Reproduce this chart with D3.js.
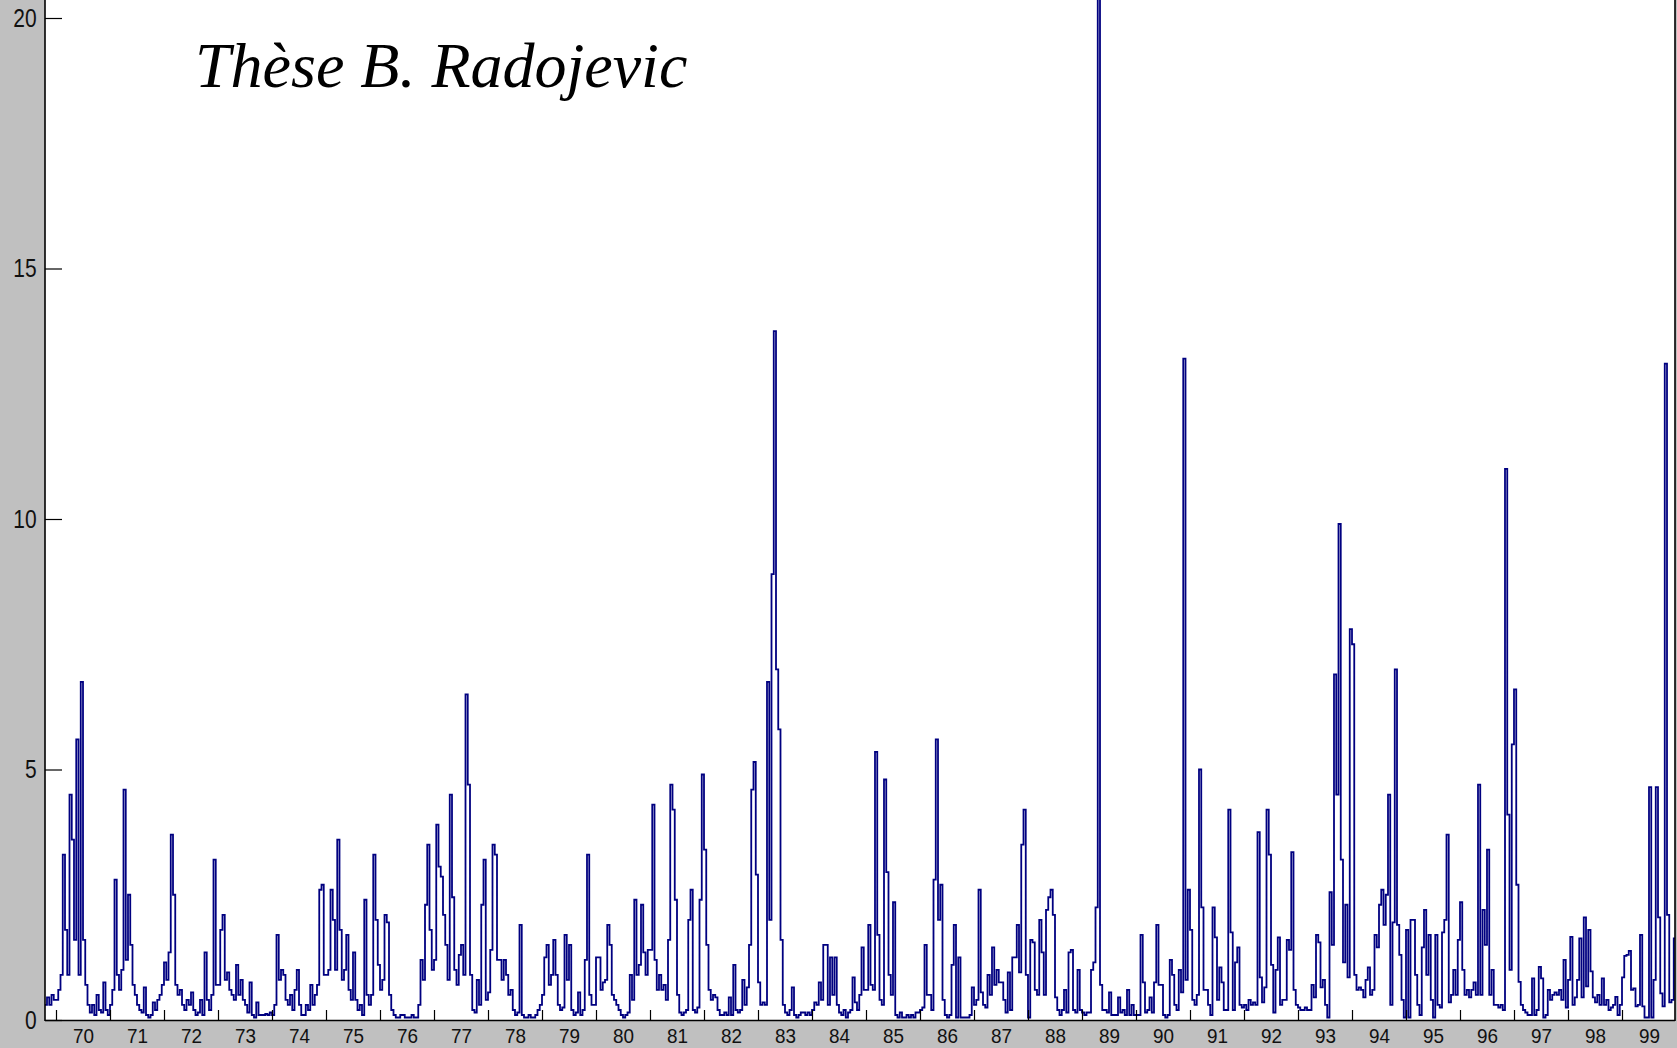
<!DOCTYPE html>
<html>
<head>
<meta charset="utf-8">
<script src="https://cdn.jsdelivr.net/npm/d3@7"></script>
<style>
  html, body { margin: 0; padding: 0; background: #c0c0c0; overflow: hidden; }
  svg { display: block; }
</style>
</head>
<body>
<div id="chart"></div>
<script>
// half-month values (24 per year)
const y69 = [0.3, 0.45, 0.3, 0.5, 0.4]; // last bins of 1969 (from bin 19)
const y70 = [0.4, 0.6, 0.9, 3.3, 1.8, 0.9, 4.5, 3.6, 1.6, 5.6, 0.9, 6.75, 1.6, 0.7, 0.3, 0.15, 0.3, 0.1, 0.5, 0.2, 0.15, 0.75, 0.2, 0.1];
const y71 = [0.3, 0.6, 2.8, 0.9, 0.6, 1.0, 4.6, 1.2, 2.5, 1.5, 0.7, 0.5, 0.3, 0.2, 0.15, 0.65, 0.1, 0.05, 0.1, 0.35, 0.2, 0.4, 0.5, 0.7];
const y72 = [1.15, 0.8, 1.35, 3.7, 2.5, 0.7, 0.5, 0.6, 0.3, 0.2, 0.4, 0.3, 0.55, 0.2, 0.1, 0.15, 0.4, 0.1, 1.35, 0.4, 0.2, 0.5, 3.2, 0.7];
const y73 = [0.7, 1.8, 2.1, 0.8, 0.95, 0.6, 0.5, 0.4, 1.1, 0.5, 0.8, 0.4, 0.3, 0.15, 0.75, 0.1, 0.05, 0.35, 0.1, 0.1, 0.1, 0.12, 0.1, 0.15];
const y74 = [0.1, 0.3, 1.7, 0.8, 1.0, 0.9, 0.4, 0.3, 0.5, 0.2, 0.6, 1.0, 0.3, 0.1, 0.1, 0.3, 0.2, 0.7, 0.3, 0.5, 0.7, 2.6, 2.7, 0.9];
const y75 = [0.9, 1.0, 2.6, 2.0, 1.0, 3.6, 1.8, 0.8, 1.0, 1.7, 0.6, 0.4, 1.35, 0.4, 0.2, 0.3, 0.1, 2.4, 0.5, 0.3, 0.5, 3.3, 2.0, 1.1];
const y76 = [0.6, 0.8, 2.1, 1.95, 0.5, 0.2, 0.1, 0.05, 0.05, 0.1, 0.1, 0.05, 0.05, 0.05, 0.1, 0.05, 0.05, 0.3, 1.2, 0.8, 2.3, 3.5, 1.8, 1.0];
const y77 = [1.2, 3.9, 3.06, 2.86, 2.1, 1.5, 0.8, 4.5, 2.45, 1.0, 0.7, 1.3, 1.5, 0.9, 6.5, 4.7, 0.9, 0.2, 0.15, 0.8, 0.3, 2.3, 3.2, 0.4];
const y78 = [0.55, 1.4, 3.5, 3.3, 1.2, 1.2, 0.8, 1.2, 0.9, 0.5, 0.6, 0.2, 0.1, 0.15, 1.9, 0.1, 0.05, 0.05, 0.1, 0.05, 0.05, 0.1, 0.2, 0.3];
const y79 = [0.5, 1.25, 1.5, 0.7, 0.9, 1.6, 0.9, 0.3, 0.2, 0.25, 1.7, 0.8, 1.5, 0.2, 0.1, 0.15, 0.55, 0.1, 0.2, 1.2, 3.3, 0.5, 0.3, 0.3];
const y80 = [1.25, 1.25, 0.6, 0.75, 0.8, 1.9, 1.5, 0.5, 0.4, 0.3, 0.2, 0.1, 0.05, 0.1, 0.15, 0.9, 0.4, 2.4, 0.9, 1.1, 2.3, 1.35, 0.9, 1.4];
const y81 = [1.4, 4.3, 1.2, 0.6, 0.9, 0.6, 0.7, 0.4, 1.6, 4.7, 4.2, 2.4, 0.5, 0.15, 0.1, 0.15, 0.2, 2.0, 2.6, 0.2, 0.15, 0.25, 2.4, 4.9];
const y82 = [3.4, 1.5, 0.6, 0.4, 0.5, 0.45, 0.2, 0.1, 0.1, 0.15, 0.1, 0.45, 0.1, 1.1, 0.2, 0.15, 0.2, 0.8, 0.3, 0.65, 1.5, 4.6, 5.15, 2.9];
const y83 = [0.75, 0.3, 0.35, 0.3, 6.75, 2.0, 8.9, 13.75, 7.0, 5.8, 1.6, 0.3, 0.15, 0.1, 0.2, 0.65, 0.1, 0.05, 0.1, 0.15, 0.15, 0.1, 0.15, 0.1];
const y84 = [0.2, 0.35, 0.3, 0.75, 0.4, 1.5, 1.5, 0.3, 1.25, 0.5, 1.25, 0.3, 0.15, 0.1, 0.2, 0.05, 0.15, 0.2, 0.85, 0.35, 0.2, 0.5, 1.45, 0.6];
const y85 = [0.6, 1.9, 0.7, 0.6, 5.35, 1.7, 0.4, 0.3, 4.8, 2.95, 0.9, 0.5, 2.35, 0.1, 0.05, 0.15, 0.05, 0.05, 0.1, 0.05, 0.1, 0.05, 0.15, 0.15];
const y86 = [0.2, 0.25, 1.5, 0.5, 0.5, 0.2, 2.8, 5.6, 2.0, 2.7, 0.4, 0.1, 0.05, 0.1, 1.1, 1.9, 0.05, 1.25, 0.05, 0.05, 0.05, 0.05, 0.1, 0.65];
const y87 = [0.3, 0.4, 2.6, 0.55, 0.3, 0.25, 0.9, 0.5, 1.45, 0.7, 1.0, 0.75, 0.75, 0.4, 0.15, 0.95, 0.2, 1.25, 1.25, 1.9, 0.95, 3.5, 4.2, 0.9];
const y88 = [0.05, 1.6, 1.55, 0.6, 0.5, 2.0, 1.35, 0.5, 2.2, 2.45, 2.6, 2.1, 0.45, 0.2, 0.1, 0.2, 0.6, 0.15, 1.35, 1.4, 0.2, 0.15, 1.0, 0.2];
const y89 = [0.15, 0.1, 0.15, 0.15, 1.0, 1.15, 2.25, 21.5, 0.7, 0.2, 0.2, 0.15, 0.55, 0.1, 0.1, 0.1, 0.45, 0.15, 0.2, 0.1, 0.6, 0.1, 0.3, 0.1];
const y90 = [0.1, 0.1, 1.7, 0.75, 0.15, 0.2, 0.45, 0.15, 0.75, 1.9, 0.7, 0.7, 0.1, 0.05, 0.1, 1.2, 0.9, 0.3, 0.2, 1.0, 0.55, 13.2, 0.8, 2.6];
const y91 = [1.8, 0.4, 0.3, 0.5, 5.0, 2.25, 0.6, 0.6, 0.3, 0.1, 2.25, 1.65, 0.4, 1.05, 0.75, 0.2, 0.2, 4.2, 1.75, 0.2, 1.15, 1.45, 0.3, 0.25];
const y92 = [0.3, 0.2, 0.4, 0.3, 0.35, 0.3, 3.75, 0.85, 0.35, 0.65, 4.2, 3.3, 1.1, 0.15, 1.0, 1.65, 0.3, 0.4, 0.4, 1.6, 1.4, 3.35, 0.6, 0.3];
const y93 = [0.25, 0.2, 0.2, 0.25, 0.2, 0.2, 0.7, 0.45, 1.7, 1.55, 0.65, 0.8, 0.3, 0.05, 2.55, 1.5, 6.9, 4.5, 9.9, 3.2, 1.15, 2.3, 0.85, 7.8];
const y94 = [7.5, 0.9, 0.6, 0.65, 0.6, 0.45, 0.8, 1.05, 0.5, 0.6, 1.7, 1.45, 2.3, 2.6, 1.9, 2.5, 4.5, 0.3, 1.95, 7.0, 1.9, 1.3, 0.4, 0.05];
const y95 = [1.8, 0.05, 2.0, 2.0, 0.9, 0.3, 0.1, 1.45, 2.2, 0.9, 1.7, 0.4, 0.05, 1.7, 0.3, 0.25, 1.75, 2.0, 3.7, 0.35, 0.5, 1.0, 0.5, 1.6];
const y96 = [2.35, 1.0, 0.5, 0.6, 0.45, 0.6, 0.75, 0.5, 4.7, 0.5, 2.2, 1.5, 3.4, 0.5, 1.0, 0.3, 0.3, 0.25, 0.3, 0.2, 11.0, 4.1, 1.0, 5.5];
const y97 = [6.6, 2.7, 0.76, 0.3, 0.2, 0.15, 0.1, 0.1, 0.83, 0.1, 0.2, 1.06, 0.83, 0.05, 0.1, 0.6, 0.4, 0.5, 0.55, 0.5, 0.6, 0.4, 1.2, 0.25];
const y98 = [0.8, 1.66, 0.3, 0.45, 0.8, 1.63, 0.45, 2.05, 0.67, 1.8, 0.97, 0.45, 0.35, 0.5, 0.3, 0.83, 0.3, 0.4, 0.2, 0.25, 0.3, 0.46, 0.1, 0.3];
const y99 = [0.85, 1.28, 1.3, 1.38, 0.6, 0.63, 0.27, 0.3, 1.7, 0.27, 0.05, 0.05, 4.65, 0.05, 0.8, 4.65, 2.05, 0.53, 0.27, 13.1, 2.1, 0.35, 0.4, 1.63];

const yearRows = [y70, y71, y72, y73, y74, y75, y76, y77, y78, y79,
                  y80, y81, y82, y83, y84, y85, y86, y87, y88, y89,
                  y90, y91, y92, y93, y94, y95, y96, y97, y98, y99];

const yTicks = [0, 5, 10, 15, 20];
const tickYears = d3.range(1970, 2000);
const yearLabels = ["70","71","72","73","74","75","76","77","78","79",
                    "80","81","82","83","84","85","86","87","88","89",
                    "90","91","92","93","94","95","96","97","98","99"];
const title = "Thèse B. Radojevic";

// build the time series (t in fractional years)
const points = [];
y69.forEach((v, i) => points.push({t: 1969 + (19 + i) / 24, v: v}));
yearRows.forEach((row, k) => {
    row.forEach((v, i) => points.push({t: 1970 + k + i / 24, v: v}));
});
points.push({t: 2000, v: y99[y99.length - 1]});

const width = 1677, height = 1048;
const plotLeft = 45, plotRight = 1675, plotBottom = 1020;

const x = d3.scaleLinear().domain([1970, 2000]).range([56, 1676]);
const y = d3.scaleLinear().domain([0, 20]).range([1020, 18]);

const svg = d3.select("#chart").append("svg")
    .attr("width", width)
    .attr("height", height);

svg.append("rect")
    .attr("width", width).attr("height", height)
    .attr("fill", "#c0c0c0");

svg.append("rect")
    .attr("x", plotLeft).attr("y", 0)
    .attr("width", plotRight - plotLeft).attr("height", plotBottom)
    .attr("fill", "#ffffff");

svg.append("clipPath").attr("id", "plotClip")
    .append("rect")
    .attr("x", plotLeft).attr("y", 0)
    .attr("width", plotRight - plotLeft).attr("height", plotBottom);

const line = d3.line()
    .x(d => x(d.t))
    .y(d => y(d.v))
    .curve(d3.curveStepAfter);

svg.append("path")
    .datum(points)
    .attr("clip-path", "url(#plotClip)")
    .attr("fill", "none")
    .attr("stroke", "#000080")
    .attr("stroke-width", 1.8)
    .attr("d", line);

// y axis (ticks pointing inwards, like matlab)
const gY = svg.append("g")
    .attr("transform", `translate(${plotLeft},0)`)
    .call(d3.axisLeft(y).tickValues(yTicks).tickSize(-17).tickSizeOuter(0).tickPadding(8));
gY.select(".domain").remove();
gY.selectAll("line").attr("stroke", "#000").attr("stroke-width", 1.2);
gY.selectAll("text")
    .attr("font-family", "'Liberation Sans', Arial, sans-serif")
    .attr("font-size", 20)
    .attr("fill", "#111")
    .attr("transform", "scale(1.05,1.25)");

// x axis: tick marks at year boundaries
const gXt = svg.append("g")
    .attr("transform", `translate(0,${plotBottom})`)
    .call(d3.axisBottom(x).tickValues(tickYears).tickSize(-10).tickSizeOuter(0).tickFormat(""));
gXt.select(".domain").remove();
gXt.selectAll("line").attr("stroke", "#000").attr("stroke-width", 1.2);

// x axis: year labels in the middle of each year
const gXl = svg.append("g")
    .attr("transform", `translate(0,${plotBottom})`)
    .call(d3.axisBottom(x).tickValues(tickYears.map(d => d + 0.5))
        .tickFormat((d, i) => yearLabels[i]).tickSize(0).tickPadding(8));
gXl.select(".domain").remove();
gXl.selectAll("text")
    .attr("font-family", "'Liberation Sans', Arial, sans-serif")
    .attr("font-size", 18)
    .attr("fill", "#111")
    .attr("transform", "scale(1.05,1.1)");

// box lines
svg.append("line")
    .attr("x1", plotLeft).attr("x2", plotLeft)
    .attr("y1", 0).attr("y2", plotBottom + 1)
    .attr("stroke", "#000").attr("stroke-width", 1.6);
svg.append("line")
    .attr("x1", plotLeft).attr("x2", plotRight)
    .attr("y1", plotBottom + 0.5).attr("y2", plotBottom + 0.5)
    .attr("stroke", "#000").attr("stroke-width", 1.6);
svg.append("line")
    .attr("x1", plotRight).attr("x2", plotRight)
    .attr("y1", 0).attr("y2", plotBottom + 1)
    .attr("stroke", "#000").attr("stroke-width", 1.6);

svg.append("text")
    .attr("x", 195).attr("y", 87)
    .attr("font-family", "'Liberation Serif', 'Times New Roman', serif")
    .attr("font-style", "italic")
    .attr("font-size", 64)
    .attr("fill", "#000")
    .text(title);
</script>
</body>
</html>
